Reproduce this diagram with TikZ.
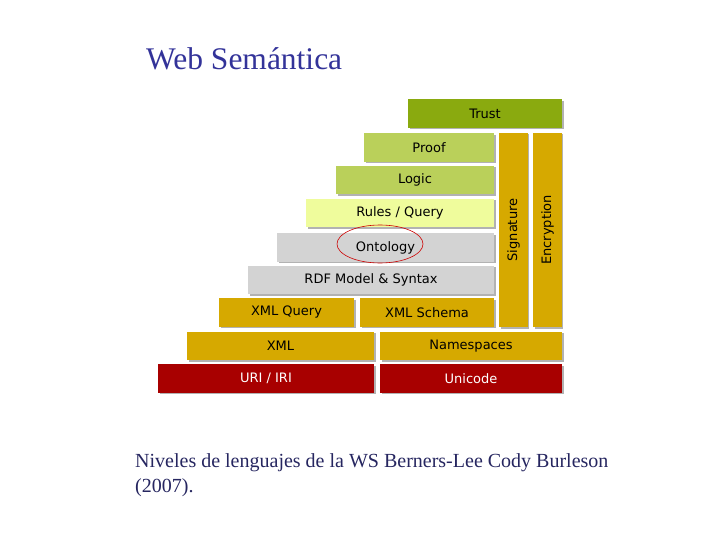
\documentclass[tikz,border=0pt]{standalone}
\usepackage{fontspec}
\setmainfont{Liberation Serif}
\newfontfamily\layerfont{DejaVu Sans}
\usepackage{tikz}
\usetikzlibrary{shapes.geometric,shadows}
\definecolor{titleblue}{HTML}{333399}
\definecolor{captionblue}{HTML}{262660}
\definecolor{trustc}{HTML}{8AAA0F}
\definecolor{logicc}{HTML}{BAD05A}
\definecolor{rulesc}{HTML}{EFFC9C}
\definecolor{rdfc}{HTML}{D3D3D3}
\definecolor{xmlc}{HTML}{D6A900}
\definecolor{baseRed}{HTML}{A80000}
\tikzset{
  layer/.style={rectangle, inner sep=0pt, minimum height=28.5pt,
    font=\layerfont\fontsize{13}{15}\selectfont, text=black,
    drop shadow={shadow xshift=1.5pt, shadow yshift=-1.5pt, fill=black, opacity=0.3}},
  baselayer/.style={layer, fill=baseRed, text=white}
}

\begin{document}
\begin{tikzpicture}[x=1pt, y=-1pt]
\useasboundingbox (0,0) rectangle (720,540);

\node (title) [anchor=base west, inner sep=0pt, text=titleblue,
  font=\fontsize{31.5}{35}\selectfont] at (146,70) {Web Semántica};

% stack of layers
\node (trust) [layer, fill=trustc, minimum width=154pt] at (485,113.5) {Trust};
\node (proof) [layer, fill=logicc, minimum width=130pt] at (429,147.5) {Proof};
\node (logic) [layer, fill=logicc, minimum width=158pt] at (415,180) {Logic};
\node (rules) [layer, fill=rulesc, minimum width=188pt] at (400,213) {Rules / Query};
\node (ontology) [layer, fill=rdfc, minimum width=217pt] at (385.5,247.5) {Ontology};
\node (rdf) [layer, fill=rdfc, minimum width=246pt] at (371,280) {RDF Model \& Syntax};
\node (xmlquery) [layer, fill=xmlc, minimum width=135pt] at (286.5,312.5) {XML Query};
\node (xmlschema) [layer, fill=xmlc, minimum width=134pt] at (427,312.5) {XML Schema};
\node (xml) [layer, fill=xmlc, minimum width=187pt] at (280.5,346) {XML};
\node (namespaces) [layer, fill=xmlc, minimum width=182pt] at (471,346) {Namespaces};
\node (uri) [baselayer, minimum width=216pt] at (266,378.5) {URI / IRI};
\node (unicode) [baselayer, minimum width=182pt] at (471,378.5) {Unicode};

% vertical columns
\node (signature) [layer, fill=xmlc, rotate=90, minimum width=194pt] at (513.5,230) {Signature};
\node (encryption) [layer, fill=xmlc, rotate=90, minimum width=194pt] at (547.5,230) {Encryption};

\node (mark) [ellipse, draw=red!80!black, line width=0.6pt, minimum width=86pt,
  minimum height=38pt] at (380,244) {};

\node (caption) [anchor=north west, inner sep=0pt, align=left, text=captionblue,
  font=\fontsize{20}{25}\selectfont] at (135,453)
  {Niveles de lenguajes de la WS Berners-Lee Cody Burleson\\(2007).};
\end{tikzpicture}
\end{document}
